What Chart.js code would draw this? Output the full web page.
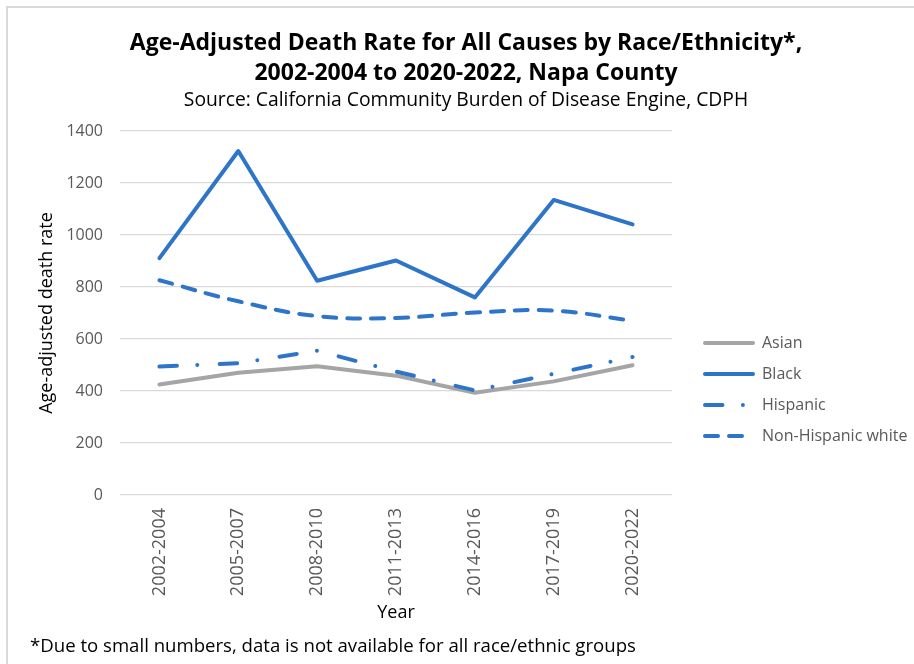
<!DOCTYPE html>
<html>
<head>
<meta charset="utf-8">
<script src="https://cdn.jsdelivr.net/npm/chart.js@4/dist/chart.umd.min.js"></script>
<style>
  html, body { margin: 0; padding: 0; background: #ffffff; }
  #wrap { position: relative; width: 914px; height: 664px; overflow: hidden; }
  #frame { position: absolute; left: 6px; top: 6px; width: 940px; height: 700px;
           border-top: 2px solid #d9d9d9; border-left: 2px solid #d9d9d9; }
  #c { position: absolute; left: 0; top: 0; }
</style>
</head>
<body>
<div id="wrap">
  <div id="frame"></div>
  <canvas id="c" width="914" height="664"></canvas>
</div>
<script>
// Three-year periods on the x axis
const periods = ['2002-2004', '2005-2007', '2008-2010', '2011-2013', '2014-2016', '2017-2019', '2020-2022'];

// Age-adjusted death rates per 100,000, by group
const asianRate    = [425, 470, 495, 459, 393, 437, 499];
const blackRate    = [911, 1323, 824, 902, 760, 1135, 1041];
const hispanicRate = [494, 507, 555, 475, 402, 466, 531];
const whiteRate    = [826, 745, 688, 681, 702, 709, 670];

// Value axis
const yMin = 0;
const yMax = 1400;
const yStep = 200;

const titleLines = [
  'Age-Adjusted Death Rate for All Causes by Race/Ethnicity*,',
  '2002-2004 to 2020-2022, Napa County'
];
const sourceLine = 'Source: California Community Burden of Disease Engine, CDPH';
const footnote = '*Due to small numbers, data is not available for all race/ethnic groups';

const FONT = '"Open Sans", "Noto Sans", sans-serif';
const BLUE = '#2e74c8';
const GREY = '#a5a5a5';
const TICK = '#595959';
const LINE_W = 4;

const DASH_DOT = [17.5, 20.4, 0.01, 22.4];
const DASH = [13, 11];

// Small line swatch used as the legend symbol, so the legend shows each dash pattern
function swatch(color, dash) {
  const cv = document.createElement('canvas');
  cv.width = 52; cv.height = 8;
  const g = cv.getContext('2d');
  g.strokeStyle = color;
  g.lineWidth = LINE_W;
  g.lineCap = 'round';
  g.setLineDash(dash || []);
  g.beginPath();
  g.moveTo(2, 4);
  g.lineTo(50, 4);
  g.stroke();
  return cv;
}

// Moves the legend block to the right-hand column beside the plot
const legendPlacement = {
  id: 'legendPlacement',
  beforeInit(chart) {
    const lg = chart.legend;
    const fit = lg.fit;
    lg.fit = function () { fit.call(this); this.width = 242; };
  },
  afterLayout(chart) {
    const lg = chart.legend;
    const dx = 689 - lg.left;
    lg.left += dx; lg.right += dx;
    const dy = 389.5 - (lg.top + lg.bottom) / 2;
    lg.top += dy; lg.bottom += dy;
  }
};

// Note printed under the chart
const footnotePlugin = {
  id: 'footnote',
  afterDraw(chart) {
    const ctx = chart.ctx;
    ctx.save();
    ctx.font = '18.6px ' + FONT;
    ctx.fillStyle = '#000000';
    ctx.textAlign = 'left';
    ctx.textBaseline = 'alphabetic';
    ctx.fillText(footnote, 30, 652);
    ctx.restore();
  }
};

// Later series are painted over earlier ones
function series(label, data, color, dash, tension, order) {
  return {
    label, data, order,
    borderColor: color, backgroundColor: color,
    borderWidth: LINE_W, borderDash: dash || [],
    borderJoinStyle: 'round', borderCapStyle: 'round',
    tension: tension || 0, fill: false,
    pointRadius: 0, pointHoverRadius: 0,
    pointStyle: swatch(color, dash)
  };
}

new Chart(document.getElementById('c'), {
  type: 'line',
  data: {
    labels: periods,
    datasets: [
      series('Asian', asianRate, GREY, null, 0, 4),
      series('Black', blackRate, BLUE, null, 0, 3),
      series('Hispanic', hispanicRate, BLUE, DASH_DOT, 0, 2),
      series('Non-Hispanic white', whiteRate, BLUE, DASH, 0.4, 1)
    ]
  },
  options: {
    responsive: false,
    animation: false,
    devicePixelRatio: 1,
    layout: { padding: { left: 18, right: 0, top: 0, bottom: 40 } },
    plugins: {
      title: {
        display: true,
        text: titleLines,
        color: '#000000',
        font: { family: FONT, size: 23, weight: 'bold', lineHeight: 30 / 23 },
        padding: { top: 28.1, bottom: 0 }
      },
      subtitle: {
        display: true,
        text: sourceLine,
        color: '#000000',
        font: { family: FONT, size: 19.3, weight: 'normal', lineHeight: 24 / 19.3 },
        padding: { top: 0.4, bottom: 18.5 }
      },
      legend: {
        display: true,
        position: 'right',
        labels: {
          usePointStyle: true,
          pointStyleWidth: 50,
          padding: 15,
          color: TICK,
          font: { family: FONT, size: 16 },
          sort: (a, b) => a.datasetIndex - b.datasetIndex
        }
      },
      tooltip: { enabled: false }
    },
    scales: {
      x: {
        offset: true,
        grid: { display: false, drawTicks: false, offset: true },
        border: { display: false },
        ticks: { color: TICK, font: { family: FONT, size: 18 }, minRotation: 90, maxRotation: 90, padding: 13, autoSkip: false },
        title: { display: true, text: 'Year', color: '#000000', font: { family: FONT, size: 18, lineHeight: 1.2 }, padding: { top: 0, bottom: 0.2 } },
        afterFit(scale) { scale.height = 129; }
      },
      y: {
        min: yMin,
        max: yMax,
        grid: { color: '#d9d9d9', lineWidth: 1.3, drawTicks: false },
        border: { display: false },
        ticks: { stepSize: yStep, color: TICK, font: { family: FONT, size: 16 }, padding: 17,
                 callback: (v) => String(v) },
        title: { display: true, text: 'Age-adjusted death rate', color: '#000000', font: { family: FONT, size: 18, lineHeight: 1.2 }, padding: { top: 18.2, bottom: 0 } },
        afterFit(scale) { scale.width = 102; }
      }
    }
  },
  plugins: [legendPlacement, footnotePlugin]
});
</script>
</body>
</html>
